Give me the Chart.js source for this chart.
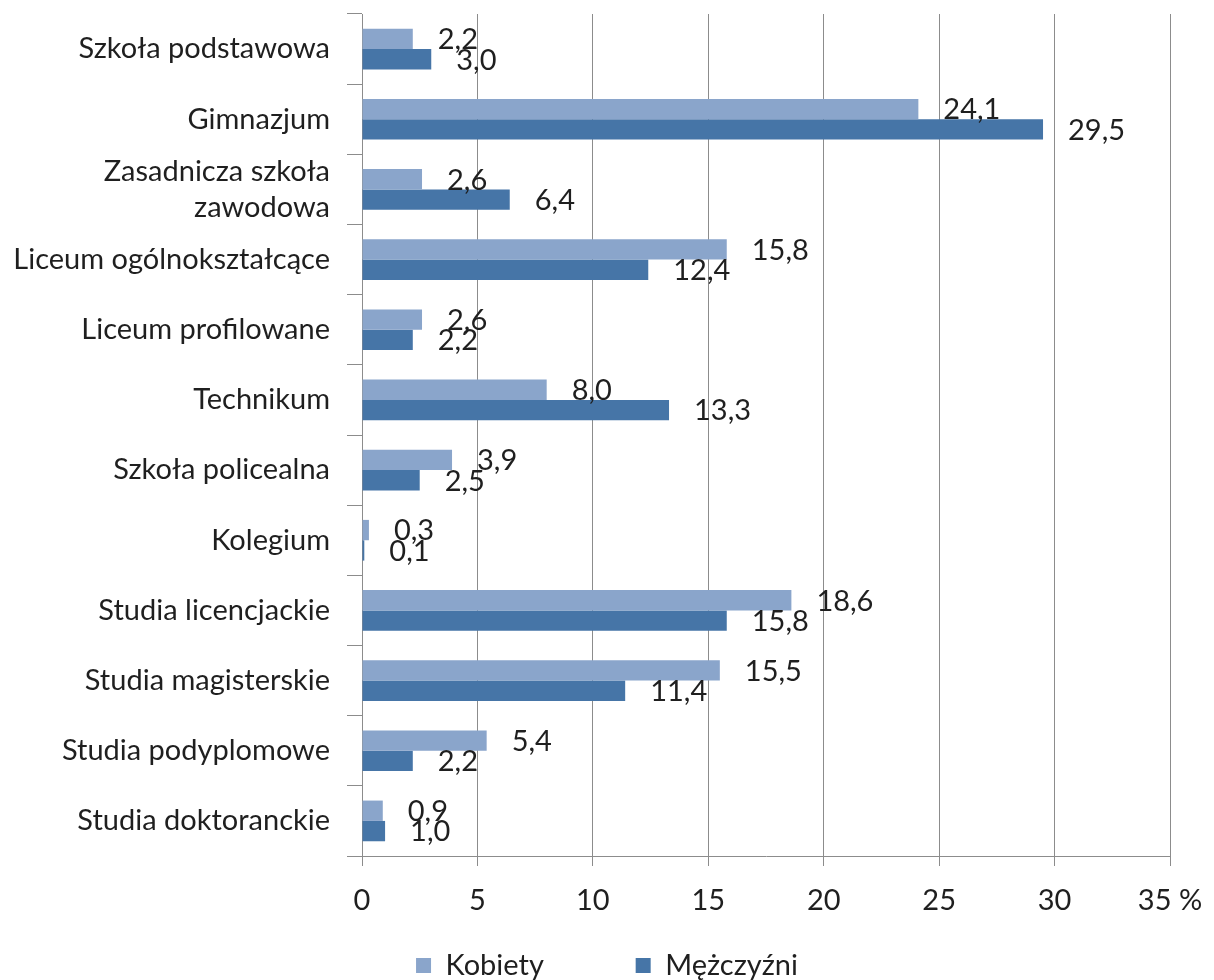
<!DOCTYPE html>
<html>
<head>
<meta charset="utf-8">
<script src="https://cdn.jsdelivr.net/npm/chart.js@4/dist/chart.umd.min.js"></script>
<style>
  html, body { margin: 0; padding: 0; background: #fff; }
  #wrap { width: 1214px; height: 980px; }
</style>
</head>
<body>
<div id="wrap"><canvas id="eduChart" width="1214" height="980"></canvas></div>
<script>
// Data (% of respondents by school type)
const categories = [
    'Szkoła podstawowa',
    'Gimnazjum',
    ['Zasadnicza szkoła', 'zawodowa'],
    'Liceum ogólnokształcące',
    'Liceum profilowane',
    'Technikum',
    'Szkoła policealna',
    'Kolegium',
    'Studia licencjackie',
    'Studia magisterskie',
    'Studia podyplomowe',
    'Studia doktoranckie'
];
const kobiety = [2.2, 24.1, 2.6, 15.8, 2.6, 8.0, 3.9, 0.3, 18.6, 15.5, 5.4, 0.9];
const mezczyzni = [3.0, 29.5, 6.4, 12.4, 2.2, 13.3, 2.5, 0.1, 15.8, 11.4, 2.2, 1.0];
const xTicks = [0, 5, 10, 15, 20, 25, 30, 35];

const FONT = 'Lato';
const FS = 29;
const TEXT = '#1f1f1f';
const GRID = '#8c8c8c';

// Value labels to the right of each bar, Polish decimal comma
const valueLabels = {
    id: 'valueLabels',
    afterDatasetsDraw(chart) {
        const ctx = chart.ctx;
        ctx.save();
        ctx.font = FS + 'px ' + FONT;
        ctx.fillStyle = TEXT;
        ctx.textAlign = 'left';
        ctx.textBaseline = 'middle';
        chart.data.datasets.forEach((ds, di) => {
            chart.getDatasetMeta(di).data.forEach((bar, i) => {
                const txt = ds.data[i].toFixed(1).replace('.', ',');
                ctx.fillText(txt, bar.x + 25, bar.y + 1);
            });
        });
        ctx.restore();
    }
};

new Chart(document.getElementById('eduChart'), {
    type: 'bar',
    data: {
        labels: categories,
        datasets: [{
            label: 'Kobiety',
            data: kobiety,
            backgroundColor: '#8aa5cb',
            categoryPercentage: 0.58,
            barPercentage: 1.0
        }, {
            label: 'Mężczyźni',
            data: mezczyzni,
            backgroundColor: '#4675a7',
            categoryPercentage: 0.58,
            barPercentage: 1.0
        }]
    },
    options: {
        indexAxis: 'y',
        responsive: false,
        animation: false,
        layout: {
            padding: { top: 14, right: 0, left: 0, bottom: -10 }
        },
        plugins: {
            title: { display: false },
            tooltip: { enabled: false },
            legend: {
                position: 'bottom',
                labels: {
                    color: TEXT,
                    boxWidth: 15,
                    boxHeight: 15,
                    padding: 25,
                    font: { family: FONT, size: FS },
                    // wider gap between the two entries, as in the original
                    generateLabels: (chart) => {
                        const items = Chart.defaults.plugins.legend.labels.generateLabels(chart);
                        items.forEach((it, i) => {
                            if (i < items.length - 1) it.text = it.text + ' '.repeat(9);
                        });
                        return items;
                    }
                }
            }
        },
        scales: {
            x: {
                min: 0,
                max: 35,
                afterBuildTicks: (scale) => {
                    scale.ticks = xTicks.map(v => ({ value: v }));
                },
                afterFit: (scale) => {
                    scale.height = 70;
                    scale.paddingLeft = 0;
                    scale.paddingRight = 44;
                },
                ticks: {
                    color: TEXT,
                    padding: 17,
                    autoSkip: false,
                    font: { family: FONT, size: FS },
                    callback: (value) => value === 35 ? '35 %' : value
                },
                grid: {
                    color: GRID,
                    tickLength: 10,
                    lineWidth: 1
                },
                border: { color: GRID }
            },
            y: {
                afterFit: (scale) => {
                    scale.width = 362;
                    scale.paddingTop = 0;
                    scale.paddingBottom = 0;
                },
                ticks: {
                    color: TEXT,
                    padding: 17,
                    autoSkip: false,
                    font: { family: FONT, size: FS, lineHeight: 1.25 }
                },
                grid: {
                    color: GRID,
                    drawOnChartArea: false,
                    tickLength: 15,
                    offset: true
                },
                border: { color: GRID }
            }
        }
    },
    plugins: [valueLabels]
});
</script>
</body>
</html>
